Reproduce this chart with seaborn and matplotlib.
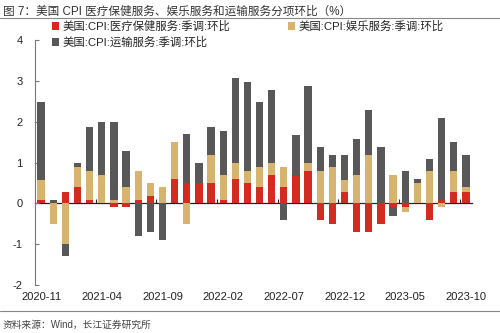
import numpy as np
import pandas as pd
import matplotlib
matplotlib.use("Agg")
import matplotlib.pyplot as plt
from matplotlib.lines import Line2D
import seaborn as sns

months = ["2020-11", "2020-12", "2021-01", "2021-02", "2021-03", "2021-04",
          "2021-05", "2021-06", "2021-07", "2021-08", "2021-09", "2021-10",
          "2021-11", "2021-12", "2022-01", "2022-02", "2022-03", "2022-04",
          "2022-05", "2022-06", "2022-07", "2022-08", "2022-09", "2022-10",
          "2022-11", "2022-12", "2023-01", "2023-02", "2023-03", "2023-04",
          "2023-05", "2023-06", "2023-07", "2023-08", "2023-09", "2023-10"]

medical = [0.08, 0.0, 0.28, 0.39, 0.08, 0.0, -0.1, -0.1, 0.08, 0.19, 0.0, 0.59,
           0.49, 0.49, 0.49, 0.08, 0.59, 0.49, 0.39, 0.69, 0.39, 0.69, 0.79, -0.41,
           -0.5, 0.29, -0.7, -0.7, -0.5, -0.1, -0.1, 0.0, -0.41, 0.08, 0.29, 0.29]
recreation = [0.5, -0.5, -1.0, 0.5, 0.71, 0.69, 0.08, 0.4, 0.71, 0.3, 0.39, 0.9,
              -0.5, 0.0, 0.7, 0.61, 0.4, 0.3, 0.5, 0.29, 0.5, 0.0, 0.2, 0.79,
              0.89, 0.29, 0.69, 1.19, 0.0, 0.69, -0.1, 0.49, 0.79, -0.1, 0.5, 0.1]
transport = [1.89, 0.08, -0.3, 0.09, 1.09, 1.29, 1.9, 0.89, -0.8, -0.7, -0.9, 0.0,
             1.2, 0.5, 0.69, 1.09, 2.09, 2.19, 1.59, 1.79, -0.41, 0.99, 1.89, 0.59,
             0.3, 0.6, 0.89, 1.09, 1.38, -0.2, 0.79, 0.1, 0.3, 2.0, 0.7, 0.8]

series_names = ["美国:CPI:医疗保健服务:季调:环比",
                "美国:CPI:娱乐服务:季调:环比",
                "美国:CPI:运输服务:季调:环比"]
series_colors = ["#D42B20", "#D6B46F", "#585858"]
tick_months = months[::5]

sns.set_theme(style="white")
plt.rcParams["font.family"] = ["Liberation Sans", "Noto Sans CJK SC", "DejaVu Sans"]

fig = plt.figure(figsize=(5, 3.33), dpi=100)
ax = fig.add_axes([0.07, 0.144, 0.874, 0.736])

pos_base = np.zeros(len(months))
neg_base = np.zeros(len(months))
handles = []
for name, vals, col in zip(series_names, [medical, recreation, transport], series_colors):
    v = np.array(vals, dtype=float)
    bottom = np.where(v >= 0, pos_base, neg_base)
    df = pd.DataFrame({"month": months, "value": v})
    sns.barplot(data=df, x="month", y="value", order=months, color=col,
                saturation=1, width=0.6, bottom=bottom, linewidth=0,
                errorbar=None, ax=ax)
    pos_base = pos_base + np.where(v >= 0, v, 0)
    neg_base = neg_base + np.where(v < 0, v, 0)
    handles.append(plt.Rectangle((0, 0), 1, 1, facecolor=col, edgecolor="none", label=name))

ax.set_ylim(-2, 4)
ax.set_xlim(-0.5, len(months) - 0.5)
ax.set_yticks(range(-2, 5))
ax.set_yticklabels([str(t) for t in range(-2, 5)])
ax.set_xticks([months.index(m) for m in tick_months])
ax.set_xticklabels(tick_months)
ax.set_xlabel("")
ax.set_ylabel("")
ax.tick_params(axis="x", length=0, pad=5, labelsize=8, colors="#222222")
ax.tick_params(axis="y", direction="in", length=3, width=0.8, color="#777777",
               pad=9, labelsize=8, labelcolor="#222222", left=True)
for s in ["top", "right", "bottom"]:
    ax.spines[s].set_visible(False)
ax.spines["left"].set_color("#777777")
ax.spines["left"].set_linewidth(0.8)

# zero axis with boundary ticks
sec = ax.secondary_xaxis(2 / 6)
sec.set_xticks([i - 0.5 for i in range(5, len(months), 5)])
sec.set_xticklabels([])
sec.tick_params(direction="in", length=3, width=0.8, color="#222222")
sec.spines["bottom"].set_color("#222222")
sec.spines["bottom"].set_linewidth(0.9)

order = [handles[0], handles[2], handles[1]]
fig.legend(handles=order, labels=[h.get_label() for h in order], ncol=2,
           loc="upper left", bbox_to_anchor=(0.104, 0.937), frameon=False,
           fontsize=8.2, handlelength=0.65, handleheight=0.65, handletextpad=0.3,
           columnspacing=5.0, labelspacing=0.4, borderpad=0, borderaxespad=0)

fig.text(0.006, 0.965, "图 7：美国 CPI 医疗保健服务、娱乐服务和运输服务分项环比（%）",
         fontsize=8.4, color="#333333", va="center", ha="left")
fig.add_artist(Line2D([0, 1], [0.947, 0.947], transform=fig.transFigure,
                      color="#888888", lw=0.8))
fig.add_artist(Line2D([0, 1], [0.065, 0.065], transform=fig.transFigure,
                      color="#888888", lw=0.8))
fig.text(0.006, 0.024, "资料来源：Wind，长江证券研究所", fontsize=7, color="#444444",
         va="center", ha="left")

fig.savefig("out.png", dpi=100)
